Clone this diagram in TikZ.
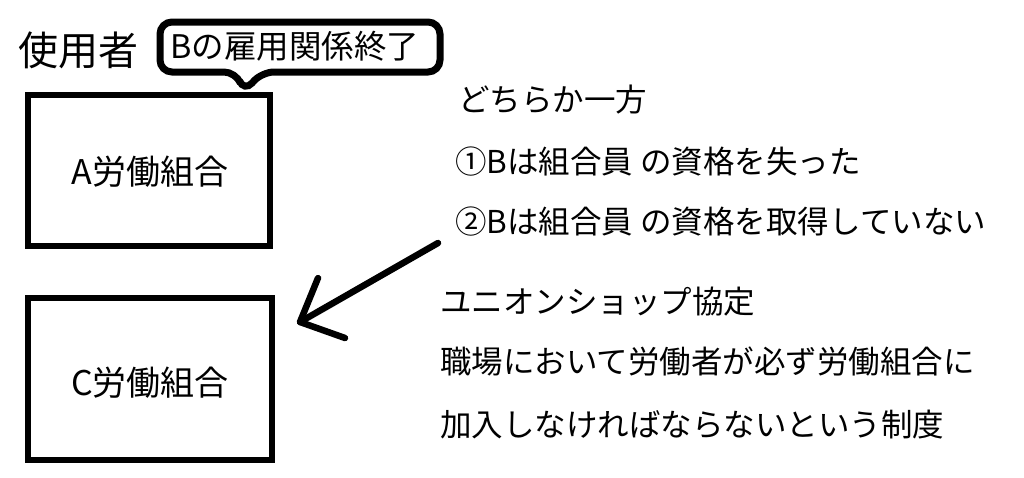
\documentclass[tikz,border=0pt]{standalone}
\usepackage{fontspec}
\setmainfont{Noto Sans CJK JP}
\begin{document}
\begin{tikzpicture}[x=1pt,y=-1pt,
  box/.style={draw,line width=6pt},
  txt/.style={anchor=west,inner sep=0pt,font=\fontsize{31.5}{34}\selectfont}]
\useasboundingbox[fill=white] (0,0) rectangle (1024,477);
\node[txt,font=\fontsize{40}{42}\selectfont] (user) at (18,50) {使用者};
\draw[line width=7pt,rounded corners=12pt] (160,22) -- (440,22) -- (440,72) -- (262,72) -- (244,92) -- (236,72) -- (160,72) -- cycle;
\node[txt,font=\fontsize{32.5}{34}\selectfont] (call) at (170,46) {Bの雇用関係終了};
\draw[box] (28,95) rectangle (270,246);
\node[font=\fontsize{34}{36}\selectfont] (a) at (150,172) {A労働組合};
\draw[box] (28,298) rectangle (272,460);
\node[font=\fontsize{34}{36}\selectfont] (c) at (150,383) {C労働組合};
\coordinate (s) at (438,243);
\coordinate (e) at (300,322);
\draw[line width=6.5pt,line cap=round] (s) -- (e);
\draw[line width=6.5pt,line cap=round,line join=round] (318,278) -- (e) -- (345,338);
\node[txt] (t1) at (458,100) {どちらか一方};
\node[txt] (t2) at (455,162) {①Bは組合員 の資格を失った};
\node[txt] (t3) at (455,222) {②Bは組合員 の資格を取得していない};
\node[txt] (t4) at (440,302) {ユニオンショップ協定};
\node[txt] (t5) at (440,362) {職場において労働者が必ず労働組合に};
\node[txt] (t6) at (440,425) {加入しなければならないという制度};
\end{tikzpicture}
\end{document}
